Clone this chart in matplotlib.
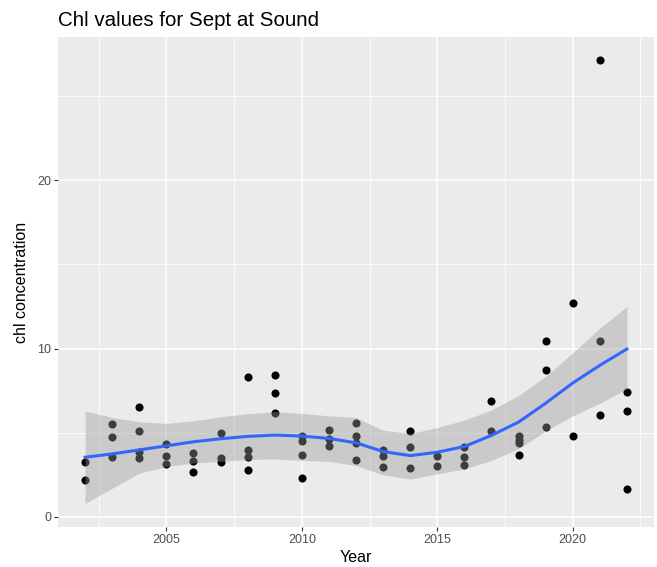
import numpy as np
import matplotlib.pyplot as plt

plt.rcParams['font.family'] = ['Liberation Sans', 'DejaVu Sans']

# September chl samples at Sound, one list of values per year
years = list(range(2002, 2023))
chl = [
    [3.24, 2.2],                    # 2002
    [5.5, 4.76, 3.56],              # 2003
    [6.53, 5.13, 3.84, 3.5],        # 2004
    [4.3, 3.64, 3.12],              # 2005
    [3.8, 3.33, 2.64],              # 2006
    [4.98, 3.5, 3.28],              # 2007
    [8.28, 3.97, 3.53, 2.8],        # 2008
    [8.42, 7.36, 6.17],             # 2009
    [4.8, 4.52, 3.69, 2.3],         # 2010
    [5.15, 4.62, 4.2],              # 2011
    [5.57, 4.81, 4.38, 3.38],       # 2012
    [3.95, 3.62, 2.94],             # 2013
    [5.13, 4.13, 2.9],              # 2014
    [3.63, 3.01],                   # 2015
    [4.17, 3.53, 3.1],              # 2016
    [6.86, 5.11],                   # 2017
    [4.79, 4.58, 4.41, 3.69],       # 2018
    [10.43, 8.75, 5.36],            # 2019
    [12.72, 4.81],                  # 2020
    [27.16, 10.43, 6.07],           # 2021
    [7.43, 6.31, 1.67],             # 2022
]

# loess smooth with 95% band
smooth_fit = [3.54, 3.74, 3.98, 4.22, 4.46, 4.64, 4.78, 4.86, 4.80, 4.66, 4.40,
              3.88, 3.64, 3.84, 4.18, 4.84, 5.63, 6.75, 7.95, 9.0, 9.97]
smooth_hi = [6.3, 5.9, 5.65, 5.55, 5.7, 5.95, 6.12, 6.25, 6.15, 6.0, 5.9,
             5.15, 4.95, 5.3, 5.75, 6.35, 7.2, 8.35, 9.75, 11.2, 12.5]
smooth_lo = [0.8, 1.7, 2.6, 3.0, 3.2, 3.3, 3.4, 3.45, 3.35, 3.3, 3.05,
             2.5, 2.25, 2.55, 2.85, 3.35, 4.05, 5.1, 6.0, 6.75, 7.6]

x_pts = [y for y, vals in zip(years, chl) for v in vals]
y_pts = [v for vals in chl for v in vals]

fig = plt.figure(figsize=(6.57, 5.67), dpi=100)
ax = fig.add_axes([58 / 657, 40 / 567, 596 / 657, 490 / 567])
ax.set_facecolor('#EBEBEB')

ax.scatter(x_pts, y_pts, s=34, color='black', zorder=3, linewidths=0)
ax.fill_between(years, smooth_lo, smooth_hi, color='#999999', alpha=0.4,
                linewidth=0, zorder=4)
ax.plot(years, smooth_fit, color='#3366FF', lw=2.2, zorder=5)

ax.set_xlim(2001, 2023)
ax.set_ylim(-0.6, 28.5)
ax.set_xticks([2005, 2010, 2015, 2020])
ax.set_xticks([2002.5, 2007.5, 2012.5, 2017.5, 2022.5], minor=True)
ax.set_yticks([0, 10, 20])
ax.set_yticks([5, 15, 25], minor=True)
ax.grid(which='major', color='white', lw=1.1, zorder=0)
ax.grid(which='minor', color='white', lw=0.55, zorder=0)
ax.set_axisbelow(True)
for s in ax.spines.values():
    s.set_visible(False)
ax.tick_params(which='major', length=3, width=0.8, color='#333333',
               labelsize=9, labelcolor='#4D4D4D', pad=2)
ax.tick_params(which='minor', length=0)

ax.set_xlabel('Year', fontsize=11.5, labelpad=3)
ax.set_ylabel('chl concentration', fontsize=11.5, labelpad=6)
ax.set_title('Chl values for Sept at Sound', fontsize=14.8, loc='left', pad=8)

fig.savefig('out.png', dpi=100)
